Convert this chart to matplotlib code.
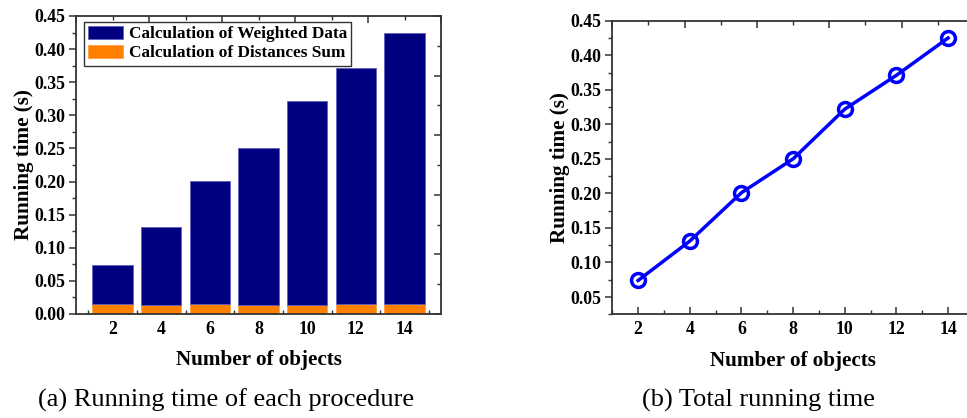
import numpy as np
import matplotlib
matplotlib.use("Agg")
import matplotlib.pyplot as plt
from matplotlib.ticker import MultipleLocator, FixedLocator, FormatStrFormatter, NullFormatter

objects = [2, 4, 6, 8, 10, 12, 14]
distances_sum = [0.015, 0.014, 0.015, 0.013, 0.014, 0.015, 0.015]
total_time = [0.074, 0.131, 0.201, 0.250, 0.322, 0.371, 0.425]
weighted_data = [t - d for t, d in zip(total_time, distances_sum)]

labels = ["Calculation of Weighted Data", "Calculation of Distances Sum"]
xlabel = "Number of objects"
ylabel = "Running time (s)"
captions = ["(a) Running time of each procedure", "(b) Total running time"]

plt.rcParams['font.family'] = ['Liberation Serif', 'DejaVu Serif']
plt.rcParams['mathtext.fontset'] = 'stix'

W, H = 967, 418
fig = plt.figure(figsize=(W / 100, H / 100), dpi=100)

spine_c = '#333333'
TICK_FS = 12.8
LAB_FS = 15.2

def style_axes(ax):
    for s in ax.spines.values():
        s.set_linewidth(1.3)
        s.set_color(spine_c)
    ax.tick_params(axis='y', which='major', direction='out', length=5, width=1.1, colors=spine_c,
                   labelsize=TICK_FS, labelcolor='black', left=True, right=False, pad=3)
    ax.tick_params(axis='y', which='minor', direction='out', length=3, width=1.0, colors=spine_c, right=False)
    ax.tick_params(axis='x', which='major', direction='in', length=5, width=1.1, colors=spine_c,
                   labelsize=TICK_FS, labelcolor='black', top=False, pad=5)
    ax.tick_params(axis='x', which='minor', direction='in', length=3, width=1.0, colors=spine_c, top=False)
    for lab in ax.get_xticklabels() + ax.get_yticklabels():
        lab.set_fontweight('bold')
    ax.set_xlabel(xlabel, fontsize=LAB_FS, fontweight='bold', labelpad=9)
    ax.set_ylabel(ylabel, fontsize=LAB_FS, fontweight='bold', labelpad=0)

def add_secondary_ticks(ax, xlim, ylim, xmaj, ymaj):
    tx = ax.twiny()
    tx.set_xlim(*xlim)
    tx.xaxis.set_major_locator(FixedLocator(np.arange(xlim[0], xlim[1] + 1e-9, xmaj)))
    tx.xaxis.set_minor_locator(FixedLocator(np.arange(xlim[0], xlim[1] + 1e-9, xmaj / 2)))
    tx.xaxis.set_major_formatter(NullFormatter())
    tx.tick_params(axis='x', which='major', direction='in', length=5, width=1.1, colors=spine_c)
    tx.tick_params(axis='x', which='minor', direction='in', length=3, width=1.0, colors=spine_c)
    ty = ax.twinx()
    ty.set_ylim(*ylim)
    ty.yaxis.set_major_locator(FixedLocator(np.arange(ylim[0], ylim[1] + 1e-9, ymaj)))
    ty.yaxis.set_minor_locator(FixedLocator(np.arange(ylim[0], ylim[1] + 1e-9, ymaj / 2)))
    ty.yaxis.set_major_formatter(NullFormatter())
    ty.tick_params(axis='y', which='major', direction='in', length=5, width=1.1, colors=spine_c)
    ty.tick_params(axis='y', which='minor', direction='in', length=3, width=1.0, colors=spine_c)
    for t in (tx, ty):
        for s in t.spines.values():
            s.set_visible(False)

# ---- left: stacked bars ----
ax1 = fig.add_axes([76 / W, 1 - 314 / H, 365 / W, 298 / H])
ax1.bar(objects, distances_sum, width=1.65, color='#FF8000', edgecolor='#FFA040', linewidth=0.6,
        label=labels[1], zorder=2)
ax1.bar(objects, weighted_data, width=1.65, bottom=distances_sum, color='#000080',
        edgecolor='#6060C0', linewidth=0.6, label=labels[0], zorder=2)
ax1.set_xlim(0.5, 15.5)
ax1.set_ylim(0, 0.45)
ax1.set_xticks(objects)
ax1.xaxis.set_minor_locator(MultipleLocator(1))
ax1.yaxis.set_major_locator(MultipleLocator(0.05))
ax1.yaxis.set_minor_locator(MultipleLocator(0.025))
ax1.yaxis.set_major_formatter(FormatStrFormatter('%.2f'))
style_axes(ax1)
h, l = ax1.get_legend_handles_labels()
leg = ax1.legend(h[::-1], l[::-1], loc='upper left', bbox_to_anchor=(0.012, 0.992),
                 prop={'weight': 'bold', 'size': 12.4}, frameon=True, fancybox=False,
                 edgecolor='#333333', framealpha=1, borderpad=0.25, labelspacing=0.15,
                 handlelength=2.0, handleheight=0.75, handletextpad=0.35, borderaxespad=0.2)
leg.get_frame().set_linewidth(1.0)
add_secondary_ticks(ax1, (0.5, 15.5), (0, 0.45), 3.0, 0.09)

# ---- right: line ----
ax2 = fig.add_axes([612.3 / W, 1 - 314.3 / H, 361.6 / W, 293.6 / H])
ax2.plot(objects, total_time, color='#0000FF', linewidth=2.5, marker='o', markersize=10,
         markerfacecolor='none', markeredgewidth=2.5, markeredgecolor='#0000FF', zorder=3)
ax2.set_xlim(1, 15)
ax2.set_ylim(0.025, 0.45)
ax2.set_xticks(objects)
ax2.xaxis.set_minor_locator(MultipleLocator(1))
ax2.yaxis.set_major_locator(FixedLocator(np.arange(0.05, 0.451, 0.05)))
ax2.yaxis.set_minor_locator(FixedLocator(np.arange(0.025, 0.451, 0.025)))
ax2.yaxis.set_major_formatter(FormatStrFormatter('%.2f'))
style_axes(ax2)
add_secondary_ticks(ax2, (1, 15), (0.025, 0.45), 2.8, 0.085)

# captions
fig.text(226 / W, 1 - 400 / H, captions[0], ha='center', va='center', fontsize=19)
fig.text(758 / W, 1 - 400 / H, captions[1], ha='center', va='center', fontsize=19)

fig.savefig('out.png', dpi=100)
